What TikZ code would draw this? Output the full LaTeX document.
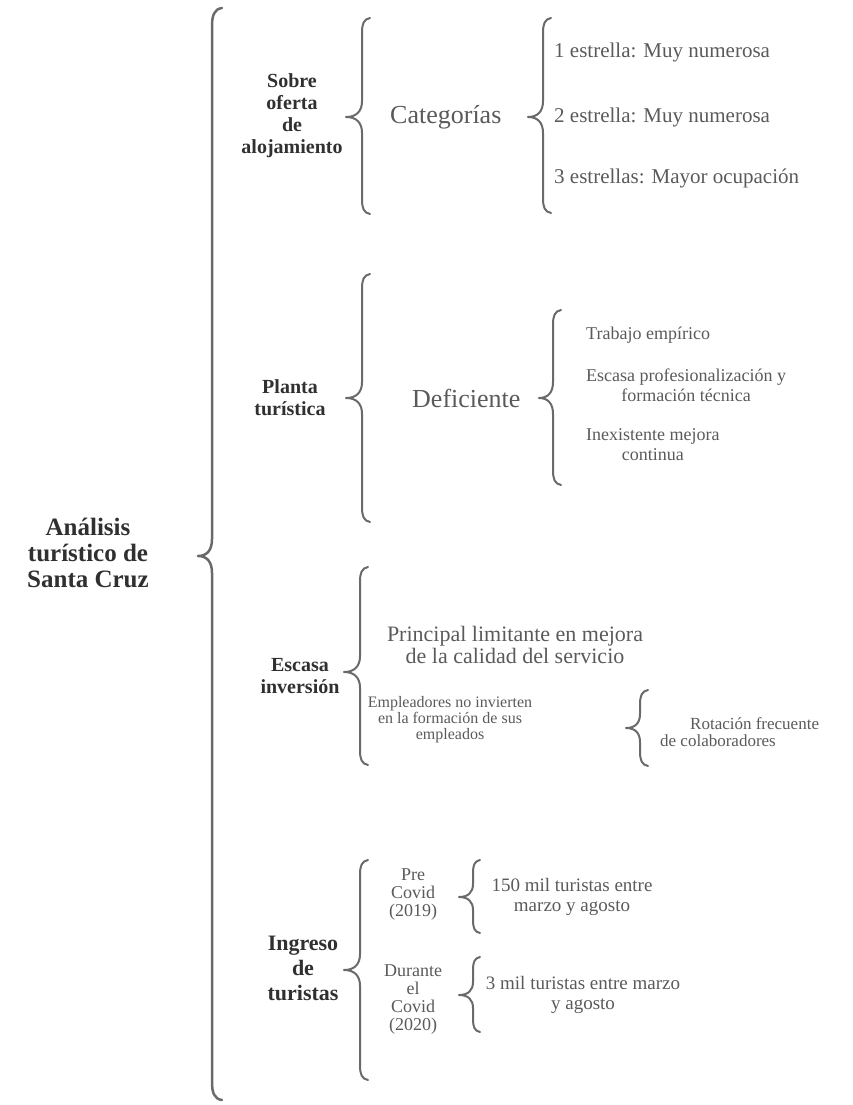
\documentclass[tikz,border=0pt]{standalone}
\usepackage{fontspec}
\setmainfont{Liberation Serif}
\definecolor{txt}{HTML}{5A5A5A}
\definecolor{dark}{HTML}{303030}
\definecolor{brc}{HTML}{6A6A6A}
% curly brace: x, top, bottom, mid, hook width, tip width, tip half-height
\newcommand{\curlyb}[7]{%
  \draw[brcline] ({#1+#5},{#2}) .. controls ({#1+0.2*#5},{#2+1}) and ({#1},{#2+0.8*#5}) .. ({#1},{#2+1.8*#5})
    -- ({#1},{#4-#7}) .. controls ({#1},{#4-0.35*#7}) and ({#1-0.35*#6},{#4}) .. ({#1-#6},{#4})
    .. controls ({#1-0.35*#6},{#4}) and ({#1},{#4+0.35*#7}) .. ({#1},{#4+#7})
    -- ({#1},{#3-1.8*#5}) .. controls ({#1},{#3-0.8*#5}) and ({#1+0.2*#5},{#3-1}) .. ({#1+#5},{#3});}
\begin{document}
\begin{tikzpicture}[x=1pt,y=-1pt,
  brcline/.style={draw=brc, line width=2pt, line cap=round, line join=round},
  ttl/.style={text=dark, font=\bfseries\fontsize{25}{26}\selectfont, align=center, inner sep=0pt},
  lbl/.style={text=dark, font=\bfseries\fontsize{20}{22}\selectfont, align=center, inner sep=0pt},
  big/.style={text=txt, font=\fontsize{26}{28}\selectfont, inner sep=0pt},
  item/.style={text=txt, font=\fontsize{21}{22}\selectfont, inner sep=0pt, anchor=west},
  sub/.style={text=txt, font=\fontsize{19}{20}\selectfont, inner sep=0pt, align=center},
  tiny/.style={text=txt, font=\fontsize{17}{17}\selectfont, inner sep=0pt, align=center}
]
\useasboundingbox (0,0) rectangle (853,1105);

% root
\node[ttl] (root) at (88,553) {Análisis\\turístico de\\Santa Cruz};
\begin{scope}[brcline/.append style={line width=2.5pt}]
\curlyb{212}{8}{1100}{556}{10}{14}{17}
\end{scope}

% section 1
\node[lbl] (s1) at (292,116) {Sobre\\oferta\\de\\alojamiento};
\curlyb{362}{18}{214}{117}{8}{16}{16}
\node[big, anchor=west] (cat) at (390,117) {Categorías};
\curlyb{543}{18}{213}{117}{8}{15}{16}
\node[item] (c1) at (554,52) {1 estrella: Muy numerosa};
\node[item] (c2) at (554,117) {2 estrella: Muy numerosa};
\node[item] (c3) at (554,178) {3 estrellas: Mayor ocupación};

% section 2
\node[lbl] (s2) at (290,398) {Planta\\turística};
\curlyb{362}{274}{522}{398}{8}{16}{16}
\node[big, anchor=west] (def) at (412,398) {Deficiente};
\curlyb{553}{310}{485}{398}{8}{14}{16}
\node[sub, font=\fontsize{18}{20}\selectfont, anchor=west] (d1) at (586,335) {Trabajo empírico};
\node[sub, font=\fontsize{18}{20}\selectfont, anchor=west] (d2) at (586,385) {Escasa profesionalización y\\formación técnica};
\node[sub, font=\fontsize{18}{20}\selectfont, anchor=west] (d3) at (586,445) {Inexistente mejora\\continua};

% section 3
\node[lbl] (s3) at (300,676) {Escasa\\inversión};
\curlyb{360}{567}{765}{672}{8}{16}{16}
\node[sub, font=\fontsize{22}{22}\selectfont] (e1) at (515,645) {Principal limitante en mejora\\de la calidad del servicio};
\node[tiny, font=\fontsize{16}{16}\selectfont] (e2) at (450,720) {Empleadores no invierten\\en la formación de sus\\empleados};
\curlyb{640}{690}{766}{728}{8}{14}{14}
\node[tiny, align=left, anchor=west] (e3) at (660,732) {\hspace*{30pt}Rotación frecuente\\de colaboradores};

% section 4
\node[lbl, font=\bfseries\fontsize{22}{25}\selectfont] (s4) at (303,968) {Ingreso\\de\\turistas};
\curlyb{360}{860}{1080}{970}{8}{16}{16}
\node[tiny, font=\fontsize{18}{18}\selectfont] (p1) at (413,895) {Pre\\Covid\\(2019)};
\curlyb{473}{860}{933}{897}{7}{14}{13}
\node[sub] (p2) at (572,897) {150 mil turistas entre\\marzo y agosto};
\node[tiny, font=\fontsize{18}{18}\selectfont] (q1) at (413,1000) {Durante\\el\\Covid\\(2020)};
\curlyb{473}{957}{1032}{995}{7}{14}{13}
\node[sub] (q2) at (583,995) {3 mil turistas entre marzo\\y agosto};
\end{tikzpicture}
\end{document}
